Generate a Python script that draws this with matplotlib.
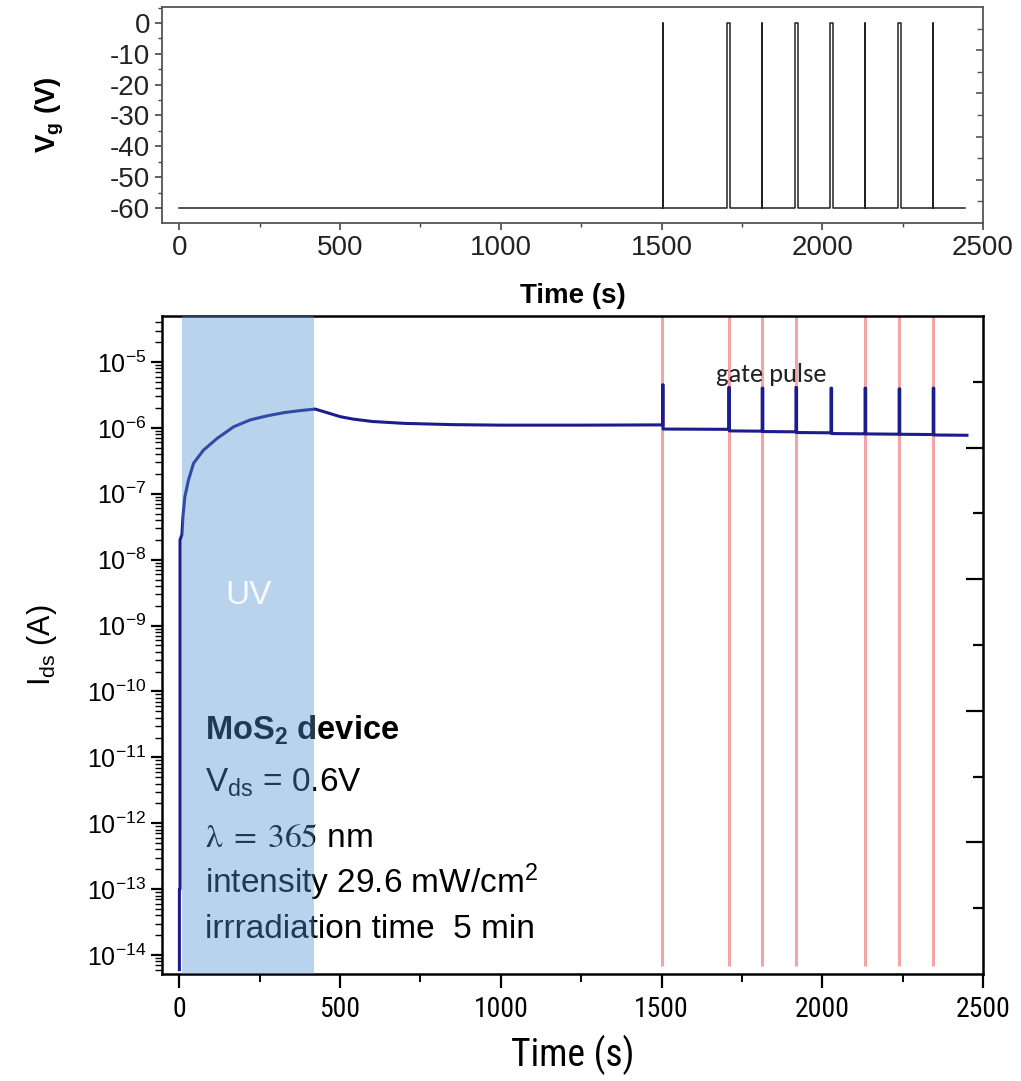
import matplotlib
matplotlib.use("Agg")
import matplotlib.pyplot as plt
import matplotlib.ticker as mticker
from matplotlib import font_manager
import numpy as np

# ---------------- data ----------------
# gate voltage trace: -60 V with short pulses to 0 V
vg_base = -60
vg_on = 0
vg_end = 2445
pulse_times = [1503, 1705, 1812, 1914, 2025, 2133, 2236, 2344]
pulse_widths = [1, 8, 1, 9, 7, 1, 8, 1]

# drain current: turn-on under UV and relaxation afterwards
ids_t = [0, 0, 2, 2, 8, 11, 17, 28, 44, 75, 117, 169, 220, 272, 324, 376, 422,
         460, 500, 540, 600, 700, 850, 1000, 1250, 1500]
ids_i = [6e-15, 1e-13, 1e-13, 2.0e-8, 2.4e-8, 4.5e-8, 9.0e-8, 1.6e-7, 2.9e-7,
         4.6e-7, 6.9e-7, 1.04e-6, 1.32e-6, 1.52e-6, 1.70e-6, 1.83e-6, 1.93e-6,
         1.70e-6, 1.48e-6, 1.36e-6, 1.25e-6, 1.17e-6, 1.12e-6, 1.10e-6, 1.10e-6,
         1.11e-6]
# current response to each gate pulse
spike_times = [1503, 1709, 1813, 1918, 2027, 2133, 2239, 2345]
spike_peak = [4.5e-6, 4.1e-6, 4.0e-6, 4.1e-6, 4.0e-6, 4.0e-6, 3.9e-6, 4.0e-6]
spike_after = [9.6e-7, 9.0e-7, 8.8e-7, 8.5e-7, 8.2e-7, 8.1e-7, 8.0e-7, 7.8e-7]
ids_end = 2450

red_lines = [1500, 1709, 1813, 1918, 2133, 2239, 2345]
uv_start, uv_stop = 8, 420

top_yticks = [0, -10, -20, -30, -40, -50, -60]
xticks = [0, 500, 1000, 1500, 2000, 2500]
ids_decades = [1e-14, 1e-13, 1e-12, 1e-11, 1e-10, 1e-9, 1e-8, 1e-7, 1e-6, 1e-5]

# ---------------- fonts ----------------
names = {f.name for f in font_manager.fontManager.ttflist}
sans = "Liberation Sans"
narrow = next((n for n in ["Liberation Sans Narrow", "Roboto Condensed",
                           "Open Sans Condensed"] if n in names), sans)
note_font = next((n for n in ["Carlito", "Lato", "Open Sans"] if n in names), sans)

plt.rcParams["font.family"] = [sans, "DejaVu Sans"]
plt.rcParams["mathtext.default"] = "regular"
plt.rcParams["mathtext.fontset"] = "stix"
plt.rcParams["axes.unicode_minus"] = False

fig = plt.figure(figsize=(10.21, 10.81), dpi=100)
ax_v = fig.add_axes([0.1587, 0.7937, 0.8041, 0.1998])
ax_i = fig.add_axes([0.1587, 0.0990, 0.8041, 0.6087])

# ---------------- top: gate voltage ----------------
tv = [0]
vv = [vg_base]
for t0, w in zip(pulse_times, pulse_widths):
    tv += [t0, t0, t0 + w, t0 + w]
    vv += [vg_base, vg_on, vg_on, vg_base]
tv.append(vg_end)
vv.append(vg_base)
ax_v.plot(tv, vv, color="#222222", lw=1.1)

ax_v.set_xlim(-54, 2500)
ax_v.set_ylim(-64.9, 5.2)
ax_v.set_xticks(xticks)
ax_v.xaxis.set_minor_locator(mticker.MultipleLocator(250))
ax_v.set_yticks(top_yticks)
ax_v.yaxis.set_minor_locator(mticker.MultipleLocator(5))
ax_v.tick_params(which="both", direction="out", colors="#444444",
                 labelcolor="#222222", labelsize=20)
ax_v.tick_params(which="major", length=5, width=1.2)
ax_v.tick_params(which="minor", length=3, width=1.0)
for s in ax_v.spines.values():
    s.set_color("#555555")
    s.set_linewidth(1.3)
ax_v.set_xlabel("Time (s)", fontsize=20, fontweight="bold", labelpad=16)
ax_v.set_ylabel("V$_g$ (V)", fontsize=20, fontweight="bold", labelpad=32)

rv = ax_v.twinx()
rv.set_ylim(0, 10)
rv.set_yticks([2, 4, 6, 8])
rv.set_yticks([1, 3, 5, 7, 9], minor=True)
rv.tick_params(which="both", direction="in", labelright=False, colors="#555555")
rv.tick_params(which="major", length=5, width=1.2)
rv.tick_params(which="minor", length=4, width=1.0)
for s in rv.spines.values():
    s.set_visible(False)

# ---------------- bottom: drain current ----------------
ti = list(ids_t)
ii = list(ids_i)
for k, t0 in enumerate(spike_times):
    ti += [t0, t0, t0 + 2, t0 + 2]
    ii += [ii[-1], spike_peak[k], spike_peak[k], spike_after[k]]
    nxt = spike_times[k + 1] - 1 if k + 1 < len(spike_times) else ids_end
    ti.append(nxt)
    ii.append(spike_after[k] * 0.99)

ax_i.set_yscale("log")
ax_i.vlines(red_lines, 6.8e-15, 5e-5, color="#f4a3a6", lw=2.2, zorder=1)
ax_i.plot(ti, ii, color="#1c1c8c", lw=2.2, zorder=3)
ax_i.axvspan(uv_start, uv_stop, color="#5291d4", alpha=0.4, lw=0, zorder=5)

ax_i.set_xlim(-54, 2500)
ax_i.set_ylim(5.16e-15, 4.99e-5)
ax_i.set_xticks(xticks)
ax_i.xaxis.set_minor_locator(mticker.MultipleLocator(250))
ax_i.yaxis.set_major_locator(mticker.FixedLocator(ids_decades))
ax_i.yaxis.set_major_formatter(mticker.LogFormatterSciNotation())
ax_i.yaxis.set_minor_locator(mticker.LogLocator(base=10, subs=np.arange(2, 10),
                                                numticks=30))
ax_i.yaxis.set_minor_formatter(mticker.NullFormatter())
ax_i.tick_params(which="both", direction="out", colors="black")
ax_i.tick_params(axis="y", which="major", length=8, width=1.6, labelsize=18)
ax_i.tick_params(axis="y", which="minor", length=5, width=1.0)
ax_i.tick_params(axis="x", which="major", length=10, width=1.6, labelsize=20, pad=6)
ax_i.tick_params(axis="x", which="minor", length=6, width=1.4)
for lab in ax_i.get_xticklabels():
    lab.set_family([narrow, "DejaVu Sans"])
for s in ax_i.spines.values():
    s.set_linewidth(1.8)

ax_i.set_xlabel("Time (s)", fontsize=27, family=[narrow, "DejaVu Sans"],
                labelpad=8)
ax_i.set_ylabel("I$_{ds}$ (A)", fontsize=22, labelpad=20)

ri = ax_i.twinx()
ri.set_ylim(0, 10)
ri.set_yticks([2, 4, 6, 8])
ri.set_yticks([1, 3, 5, 7, 9], minor=True)
ri.tick_params(which="both", direction="in", labelright=False, colors="black")
ri.tick_params(which="major", length=12, width=1.6)
ri.tick_params(which="minor", length=7, width=1.6)
for s in ri.spines.values():
    s.set_visible(False)

# labels inside the current panel
ax_i.text(214, 2.9e-9, "UV", color="white", fontsize=24, ha="center",
          va="center", alpha=0.9, zorder=6)
ax_i.text(1668, 5.0e-6, "gate pulse", fontsize=19, family=[note_font, sans],
          color="#222222", va="baseline", zorder=4)

tx = 0.0524
ax_i.text(tx, 0.3556, "MoS$_2$ device", transform=ax_i.transAxes, fontsize=23.5,
          fontweight="bold", va="baseline", zorder=4)
ax_i.text(tx, 0.2766, "V$_{ds}$ = 0.6V", transform=ax_i.transAxes, fontsize=24,
          va="baseline", zorder=4)
ax_i.text(tx, 0.1930, r"$\mathrm{\lambda\;=\;365}$ nm", transform=ax_i.transAxes,
          fontsize=24, va="baseline", zorder=4)
ax_i.text(tx, 0.1231, "intensity 29.6 mW/cm$^2$", transform=ax_i.transAxes,
          fontsize=24, va="baseline", zorder=4)
ax_i.text(tx, 0.0547, "irrradiation time  5 min", transform=ax_i.transAxes,
          fontsize=24, va="baseline", zorder=4)

fig.savefig("out.png", dpi=100)
